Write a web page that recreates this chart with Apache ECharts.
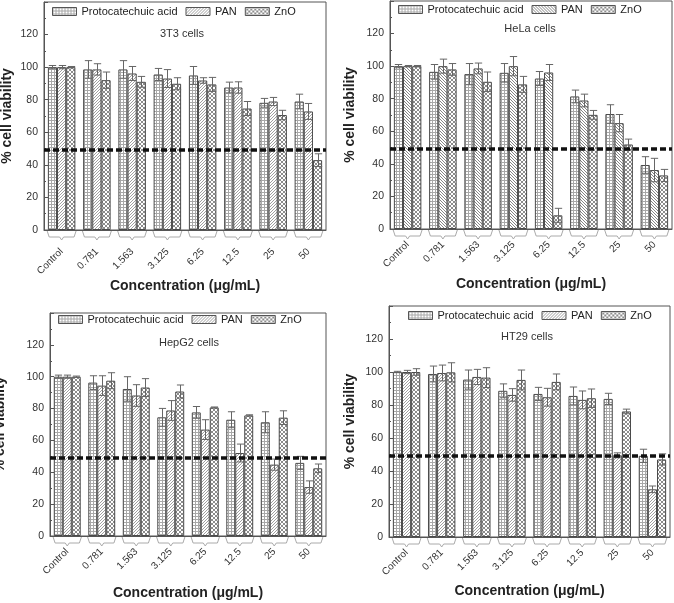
<!DOCTYPE html>
<html>
<head>
<meta charset="utf-8">
<script src="https://cdn.jsdelivr.net/npm/echarts@6/dist/echarts.min.js"></script>
<style>
html,body{margin:0;padding:0;background:#fff;}
#chart{width:674px;height:603px;}
</style>
</head>
<body>
<div id="chart"></div>
<script>
// ---------- data ----------
const categories = ['Control', '0.781', '1.563', '3.125', '6.25', '12.5', '25', '50'];
const seriesNames = ['Protocatechuic acid', 'PAN', 'ZnO'];
const panelTitles = ['3T3 cells', 'HeLa cells', 'HepG2 cells', 'HT29 cells'];
const yTickValues = [0, 20, 40, 60, 80, 100, 120];
const cutoff = 49;

const t3_pa      = [100, 98.6, 98.6, 95.5, 94.9, 87.5, 78.1, 78.9];
const t3_pa_err  = [1.0, 5.4, 5.4, 3.7, 5.5, 3.3, 2.7, 4.5];
const t3_pan     = [100, 98.6, 96.1, 93.0, 91.8, 87.5, 78.9, 72.8];
const t3_pan_err = [1.0, 3.5, 4.3, 5.5, 1.7, 3.5, 2.5, 4.9];
const t3_zno     = [100, 92.0, 91.0, 89.8, 89.4, 74.6, 70.6, 42.9];
const t3_zno_err = [0.4, 5.0, 3.3, 3.7, 4.3, 4.3, 2.9, 3.9];

const hela_pa      = [100, 96.5, 95.1, 95.9, 92.4, 81.4, 70.6, 39.3];
const hela_pa_err  = [1.0, 4.5, 6.5, 5.7, 4.3, 3.9, 5.7, 5.1];
const hela_pan     = [100, 100, 98.6, 100, 96.1, 78.9, 65.0, 36.2];
const hela_pan_err = [0.4, 4.3, 3.3, 5.9, 4.9, 3.9, 5.3, 7.2];
const hela_zno     = [100, 98.0, 90.4, 88.8, 8.4, 70.1, 51.9, 32.9];
const hela_zno_err = [0.4, 3.6, 6.0, 4.9, 4.3, 2.7, 3.3, 3.7];

const hep_pa      = [100, 96.3, 92.3, 74.5, 77.6, 73.0, 71.4, 45.9];
const hep_pa_err  = [1.0, 4.3, 7.7, 5.6, 3.7, 5.0, 6.6, 4.1];
const hep_pan     = [100, 94.4, 88.2, 78.8, 66.8, 52.1, 44.8, 30.7];
const hep_pan_err = [1.0, 6.2, 6.8, 6.2, 6.2, 5.6, 3.5, 3.9];
const hep_zno     = [100, 97.5, 93.2, 90.7, 80.7, 75.7, 74.3, 42.5];
const hep_zno_err = [0.4, 5.0, 5.6, 4.1, 0.3, 0.4, 4.3, 2.7];

const ht_pa      = [100, 98.8, 95.4, 88.6, 86.7, 85.5, 83.7, 49.2];
const ht_pa_err  = [0.4, 4.8, 5.8, 4.2, 4.0, 5.4, 3.4, 4.0];
const ht_pan     = [100, 99.4, 97.0, 86.1, 84.7, 83.1, 49.5, 28.9];
const ht_pan_err = [1.0, 4.8, 4.6, 3.8, 5.4, 5.4, 1.5, 2.0];
const ht_zno     = [100, 99.8, 96.6, 95.2, 94.0, 84.1, 76.1, 47.0];
const ht_zno_err = [2.0, 5.8, 6.0, 6.0, 4.8, 5.6, 1.4, 3.4];

const panelValues = [
  [t3_pa, t3_pan, t3_zno],
  [hela_pa, hela_pan, hela_zno],
  [hep_pa, hep_pan, hep_zno],
  [ht_pa, ht_pan, ht_zno]
];
const panelErrors = [
  [t3_pa_err, t3_pan_err, t3_zno_err],
  [hela_pa_err, hela_pan_err, hela_zno_err],
  [hep_pa_err, hep_pan_err, hep_zno_err],
  [ht_pa_err, ht_pan_err, ht_zno_err]
];

// ---------- layout / style ----------
const FONT = '"Liberation Sans", Arial, sans-serif';
const BAR_FRAC = 0.26;
const grids = [
  {left: 44, top: 2, width: 282, height: 228},
  {left: 390, top: 1, width: 282, height: 228},
  {left: 50, top: 313, width: 276, height: 223},
  {left: 389, top: 306, width: 281, height: 231}
];
const legendPos = [[52, 6], [398, 4], [58, 314], [408, 310]];
const titlePos = [[182, 34], [530, 29], [189, 343], [527, 337]];
const yNameGap = [30, 33, 43, 32];
const xNameGap = [49, 48, 50, 47];
const xLabelMargin = [20, 14, 14, 14];

function makePattern(kind, color, size) {
  const c = document.createElement('canvas');
  c.width = size; c.height = size;
  const ctx = c.getContext('2d');
  ctx.fillStyle = '#fff';
  ctx.fillRect(0, 0, size, size);
  ctx.fillStyle = color;
  if (kind === 'grid') {
    ctx.fillRect(0, 0, size, 1);
    ctx.fillRect(0, 0, 1, size);
  } else if (kind === 'slash') {
    for (let i = 0; i < size; i++) ctx.fillRect(size - 1 - i, i, 1, 1);
  } else if (kind === 'back') {
    for (let i = 0; i < size; i++) ctx.fillRect(i, i, 1, 1);
  } else if (kind === 'cross') {
    for (let i = 0; i < size; i++) { ctx.fillRect(i, i, 1, 1); ctx.fillRect(size - 1 - i, i, 1, 1); }
  }
  return {image: c, repeat: 'repeat'};
}
const patGrid = makePattern('grid', '#a8a8a8', 3);
const patSlash = makePattern('slash', '#a0a0a0', 3);
const patBack = makePattern('back', '#858585', 3);
const patCross = makePattern('cross', '#8c8c8c', 4);
const panelPatterns = [
  [patGrid, patSlash, patCross],
  [patGrid, patBack, patCross],
  [patGrid, patSlash, patCross],
  [patGrid, patSlash, patCross]
];

const option = {
  backgroundColor: '#fff',
  animation: false,
  textStyle: {fontFamily: FONT},
  grid: grids.map(g => Object.assign({
    show: true, borderColor: '#555', borderWidth: 1, backgroundColor: 'transparent',
    containLabel: false, outerBoundsMode: 'none'
  }, g)),
  legend: [],
  xAxis: [],
  yAxis: [],
  series: [],
  graphic: []
};

for (let p = 0; p < 4; p++) {
  option.legend.push({
    left: legendPos[p][0], top: legendPos[p][1],
    orient: 'horizontal',
    itemWidth: 24, itemHeight: 8, itemGap: 8,
    padding: 0,
    selectedMode: false,
    textStyle: {fontSize: 11, color: '#222', fontFamily: FONT},
    data: seriesNames.map((n, s) => ({
      name: n, icon: 'rect',
      itemStyle: {color: panelPatterns[p][s], borderColor: '#555', borderWidth: 1}
    }))
  });
  option.xAxis.push({
    type: 'category', gridIndex: p, data: categories,
    name: 'Concentration (μg/mL)', nameLocation: 'middle', nameGap: xNameGap[p],
    nameMoveOverlap: false,
    nameTextStyle: {fontSize: 14, fontWeight: 'bold', color: '#222', fontFamily: FONT},
    axisLine: {lineStyle: {color: '#555', width: 1}},
    axisTick: {show: false},
    axisLabel: {rotate: 45, margin: xLabelMargin[p], fontSize: 10, color: '#333', interval: 0, fontFamily: FONT, hideOverlap: false}
  });
  option.yAxis.push({
    type: 'value', gridIndex: p, min: 0, max: 140, interval: 20,
    name: '% cell viability', nameLocation: 'middle', nameGap: yNameGap[p],
    nameMoveOverlap: false,
    nameTextStyle: {fontSize: 14, fontWeight: 'bold', color: '#222', fontFamily: FONT},
    axisLine: {show: true, lineStyle: {color: '#555', width: 1}},
    axisTick: {show: true, inside: true, length: 4, lineStyle: {color: '#555'}},
    minorTick: {show: true, splitNumber: 2, length: 2, lineStyle: {color: '#555'}},
    splitLine: {show: false},
    axisLabel: {
      margin: 6, fontSize: 10.5, color: '#333', fontFamily: FONT,
      formatter: v => (yTickValues.indexOf(v) >= 0 ? String(v) : '')
    }
  });
  for (let s = 0; s < 3; s++) {
    option.series.push({
      type: 'bar', name: seriesNames[s],
      xAxisIndex: p, yAxisIndex: p,
      data: panelValues[p][s],
      barWidth: (BAR_FRAC * 100) + '%', barGap: '0%',
      itemStyle: {color: panelPatterns[p][s], borderColor: '#4a4a4a', borderWidth: 1},
      z: 2
    });
  }
  // error bars
  const errData = [];
  for (let s = 0; s < 3; s++) {
    for (let i = 0; i < categories.length; i++) {
      errData.push([i, s, panelValues[p][s][i], panelErrors[p][s][i]]);
    }
  }
  option.series.push({
    type: 'custom', name: 'err' + p, xAxisIndex: p, yAxisIndex: p,
    data: errData, encode: {x: 0, y: 2}, z: 3, silent: true,
    renderItem: function (params, api) {
      const cat = api.value(0), s = api.value(1), v = api.value(2), e = api.value(3);
      const band = api.size([1, 0])[0];
      const bw = band * BAR_FRAC;
      const cx = Math.round(api.coord([cat, v])[0] + (s - 1) * bw) + 0.5;
      const yT = api.coord([cat, v + e])[1];
      const yB = api.coord([cat, v - e])[1];
      const cap = bw * 0.4;
      const st = {stroke: '#666', lineWidth: 1};
      return {type: 'group', children: [
        {type: 'line', shape: {x1: cx, y1: yT, x2: cx, y2: yB}, style: st},
        {type: 'line', shape: {x1: cx - cap, y1: yT, x2: cx + cap, y2: yT}, style: st},
        {type: 'line', shape: {x1: cx - cap, y1: yB, x2: cx + cap, y2: yB}, style: st}
      ]};
    },
    markLine: {
      silent: true, symbol: ['none', 'none'], label: {show: false},
      lineStyle: {color: '#111', width: 3.5, type: [6, 3]},
      data: [{yAxis: cutoff}], z: 5
    }
  });
  // category brackets under the axis
  option.series.push({
    type: 'custom', name: 'br' + p, xAxisIndex: p, yAxisIndex: p,
    data: categories.map((c, i) => [i, 0]), encode: {x: 0, y: 1},
    clip: false, silent: true, z: 1,
    renderItem: function (params, api) {
      const cat = api.value(0);
      const pt = api.coord([cat, 0]);
      const band = api.size([1, 0])[0];
      const w = band * 0.82;
      const cx = pt[0], y0 = pt[1] + 1, yb = pt[1] + 7;
      const x0 = cx - w / 2, x1 = cx + w / 2;
      return {
        type: 'polyline',
        shape: {points: [[x0, y0], [x0 + 2, yb], [cx - 2, yb], [cx, yb + 3], [cx + 2, yb], [x1 - 2, yb], [x1, y0]]},
        style: {stroke: '#aaa', lineWidth: 1, fill: null}
      };
    }
  });
  option.graphic.push({
    type: 'text', x: titlePos[p][0], y: titlePos[p][1], silent: true,
    style: {text: panelTitles[p], font: '11px ' + FONT, fill: '#333', align: 'center', verticalAlign: 'middle', textAlign: 'center', textVerticalAlign: 'middle'}
  });
}

const chart = echarts.init(document.getElementById('chart'), null, {renderer: 'canvas'});
chart.setOption(option);
</script>
</body>
</html>
